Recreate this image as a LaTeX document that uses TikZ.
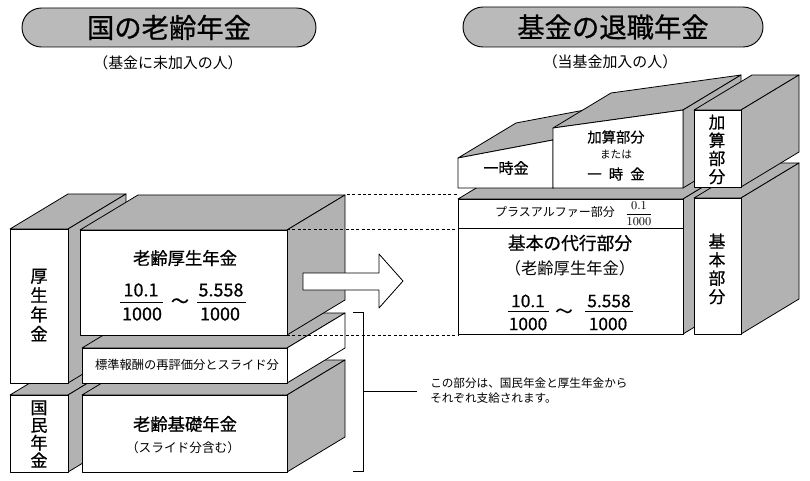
\documentclass[tikz,border=0pt]{standalone}
\usepackage{fontspec}
\setmainfont{Noto Sans CJK JP}
\newfontfamily\gb{Noto Sans CJK JP}[FakeBold=0.7]
\usetikzlibrary{shapes.misc}
\newcommand\fsz[2]{\fontsize{#1pt}{#2pt}\selectfont}
\tikzset{
 facew/.style={fill=white,draw=black,line width=0.6pt,line join=round},
 faceg/.style={fill=black!30,draw=black,line width=0.6pt,line join=round},
 pill/.style={shape=rounded rectangle,draw=black,line width=0.7pt,fill=black!27,inner sep=0pt},
 guide/.style={draw=black,line width=0.5pt,dash pattern=on 2.2pt off 1.8pt},
 thinl/.style={draw=black,line width=0.6pt},
 lbl/.style={inner sep=0pt,align=center},
}
\newcommand\blk[5]{%
 \filldraw[faceg] (#1,#2) -- ++(58,-35) -- ++({#3-#1},0) -- (#3,#2) -- cycle;
 \filldraw[#5] (#3,#2) -- ++(58,-35) -- ++(0,{#4-#2}) -- (#3,#4) -- cycle;
 \filldraw[facew] (#1,#2) rectangle (#3,#4);}
\begin{document}
\begin{tikzpicture}[x=0.75pt,y=-0.75pt]
\useasboundingbox (0,0) rectangle (810,481);
% titles
\node[pill,minimum width=220.5pt,minimum height=29.25pt,font=\gb\fsz{20.5}{24}] (t1) at (169,27.5) {国の老齢年金};
\node[lbl,font=\fsz{11.2}{13}] (s1) at (168,63) {（基金に未加入の人）};
\node[pill,minimum width=225pt,minimum height=30pt,font=\gb\fsz{20.5}{24}] (t2) at (613,27) {基金の退職年金};
\node[lbl,font=\fsz{11.2}{13}] (s2) at (610,62) {（当基金加入の人）};
% left blocks
\blk{10}{395}{68}{472}{faceg}
\blk{10}{229}{68}{383}{faceg}
\blk{82}{395}{287}{472}{faceg}
\blk{82}{348}{287}{383}{facew}
\blk{80}{230}{287}{335}{faceg}
% right blocks
\blk{458}{199}{683}{334}{faceg}
\draw[thinl] (458,228) -- (683,228);
\blk{694}{198}{741}{334}{faceg}
\filldraw[faceg] (458,158) -- (516,123) -- (611,105) -- (553,140) -- cycle;
\filldraw[faceg] (553,140) -- (611,105) -- (611,153) -- (553,188) -- cycle;
\filldraw[facew] (458,158) -- (553,140) -- (553,188) -- (458,188) -- cycle;
\filldraw[faceg] (553,128) -- (611,93) -- (741,75) -- (683,110) -- cycle;
\filldraw[faceg] (683,110) -- (741,75) -- (741,153) -- (683,188) -- cycle;
\filldraw[facew] (553,128) -- (683,110) -- (683,188) -- (553,188) -- cycle;
\blk{694}{110}{741}{187}{faceg}
% dashed guides
\coordinate (g1a) at (347,194); \coordinate (g1b) at (458,194);
\coordinate (g2a) at (287,229); \coordinate (g2b) at (458,229);
\coordinate (g3a) at (287,335); \coordinate (g3b) at (458,335);
\draw[guide] (g1a) -- (g1b);
\draw[guide] (g2a) -- (g2b);
\draw[guide] (g3a) -- (g3b);
% arrow
\filldraw[facew] (303,273) -- (379,273) -- (379,254) -- (403,281) -- (379,308) -- (379,290) -- (303,290) -- cycle;
% bracket
\coordinate (b1) at (353,312); \coordinate (b2) at (363,312);
\coordinate (b3) at (363,471); \coordinate (b4) at (353,471);
\coordinate (b5) at (363,391); \coordinate (b6) at (417,391);
\draw[thinl] (b1) -- (b2) -- (b3) -- (b4);
\draw[thinl] (b5) -- (b6);
\node[anchor=west,align=left,inner sep=0pt,font=\fsz{8.7}{11.3}] (nt) at (430,390.5) {この部分は、国民年金と厚生年金から\\それぞれ支給されます。};
% left labels
\node[lbl,font=\gb\fsz{13}{14.5}] (k1) at (39,305) {厚\\生\\年\\金};
\node[lbl,font=\gb\fsz{12.8}{13.2}] (k2) at (39,434) {国\\民\\年\\金};
\node[lbl,font=\gb\fsz{13}{15}] (m1) at (185,258) {老齢厚生年金};
\node[lbl,font=\fsz{9.2}{11}] (m2) at (187,365) {標準報酬の再評価分とスライド分};
\node[lbl,font=\gb\fsz{13}{15}] (m3) at (185,424) {老齢基礎年金};
\node[lbl,font=\fsz{9.5}{11}] (m4) at (183,448) {（スライド分含む）};
% left fractions
\node[lbl,font=\gb\fsz{13.5}{15}] (n1) at (141,290) {10.1};
\draw[thinl] (120,302) -- (163,302);
\node[lbl,font=\gb\fsz{13.5}{15}] (d1) at (142,314) {1000};
\node[lbl,font=\gb\fsz{13.5}{15}] (w1) at (180,303) {～};
\node[lbl,font=\gb\fsz{13.5}{15}] (n2) at (221,290) {5.558};
\draw[thinl] (197,302) -- (246,302);
\node[lbl,font=\gb\fsz{13.5}{15}] (d2) at (220,314) {1000};
% right labels
\node[lbl,font=\gb\fsz{12.5}{13.6}] (k3) at (717,149.5) {加\\算\\部\\分};
\node[lbl,font=\gb\fsz{12.5}{13.8}] (k4) at (717,269) {基\\本\\部\\分};
\node[lbl,font=\gb\fsz{11.3}{13}] (r1) at (506,168) {一時金};
\node[lbl,font=\gb\fsz{10.7}{13}] (r2) at (616,137) {加算部分};
\node[lbl,font=\fsz{8}{10}] (r3) at (616,155) {または};
\node[lbl,font=\gb\fsz{10.7}{13}] (r4) at (616,174) {一\hspace{5.4pt}時\hspace{5.4pt}金};
\node[lbl,font=\fsz{9}{11}] (r5) at (555,212) {プラスアルファー部分};
\node[lbl,font=\fsz{9}{10}] (r5f) at (639,213.5) {$\displaystyle\frac{0.1}{1000}$};
\node[lbl,font=\gb\fsz{13.3}{15}] (r6) at (570,243) {基本の代行部分};
\node[lbl,font=\fsz{12.2}{14}] (r7) at (570,268) {（老齢厚生年金）};
% right fractions
\node[lbl,font=\gb\fsz{13}{15}] (n3) at (528,301) {10.1};
\draw[thinl] (508,311) -- (549,311);
\node[lbl,font=\gb\fsz{13}{15}] (d3) at (528,324) {1000};
\node[lbl,font=\gb\fsz{13}{15}] (w2) at (564,313) {～};
\node[lbl,font=\gb\fsz{13}{15}] (n4) at (609,301) {5.558};
\draw[thinl] (585,311) -- (633,311);
\node[lbl,font=\gb\fsz{13}{15}] (d4) at (608,324) {1000};
\end{tikzpicture}
\end{document}
